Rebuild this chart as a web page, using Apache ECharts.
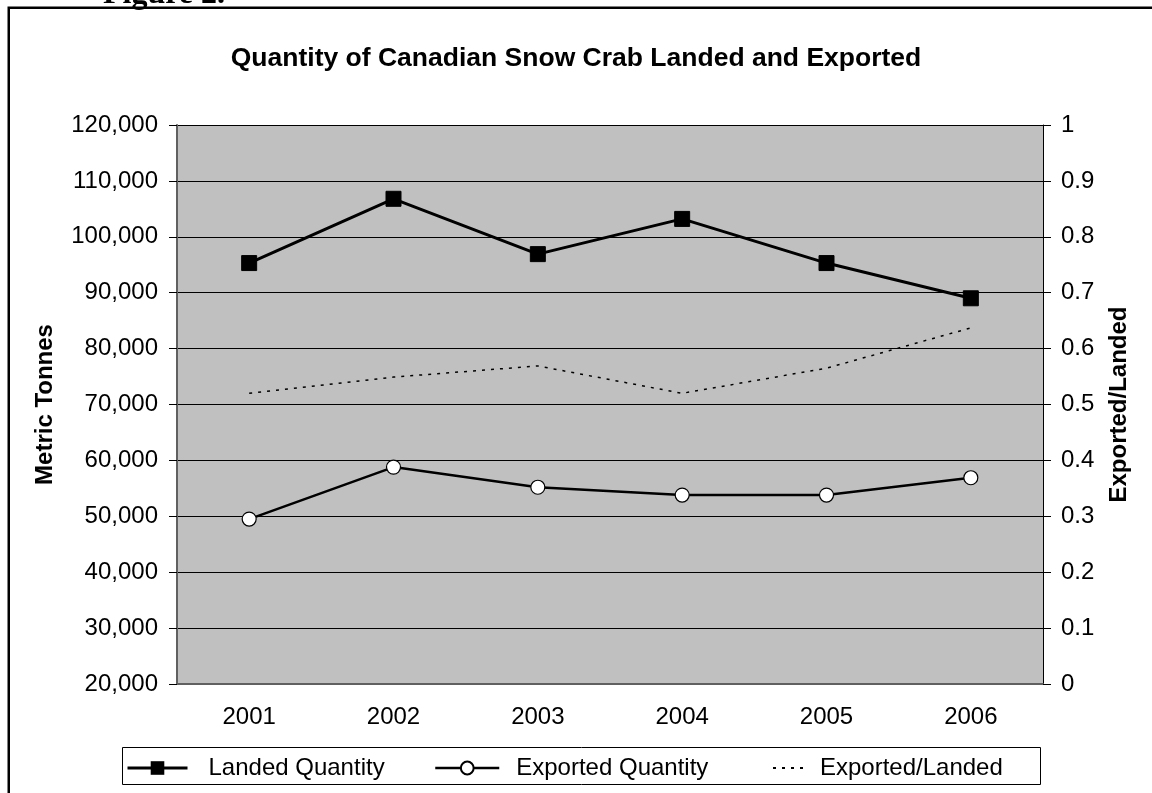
<!DOCTYPE html>
<html>
<head>
    <meta charset="utf-8">
    <title>Snow Crab</title>
    <script src="https://cdn.jsdelivr.net/npm/echarts@6/dist/echarts.min.js" type="text/javascript"></script>
    <style>
        html, body { margin: 0; padding: 0; background: #fff; }
    </style>
</head>
<body>
<div id="main" style="width: 1152px;height:793px;"></div>
<script type="text/javascript">
    // data
    var years = ['2001', '2002', '2003', '2004', '2005', '2006'];
    var landed = [95300, 106800, 96900, 103200, 95300, 89000];
    var exported = [49500, 58800, 55200, 53800, 53800, 56900];
    var ratio = [0.52, 0.549, 0.569, 0.52, 0.565, 0.637];

    var FONT = 'Arial, "Liberation Sans", sans-serif';

    var myChart = echarts.init(document.getElementById('main'));

    function legendText(pad) {
        return { fontFamily: FONT, fontSize: 24, color: '#000', padding: [0, 0, 0, pad] };
    }

    var option = {
        animation: false,
        backgroundColor: '#fff',
        title: {
            text: 'Quantity of Canadian Snow Crab Landed and Exported',
            left: 'center',
            top: 40,
            textStyle: { fontFamily: FONT, fontSize: 26.5, fontWeight: 'bold', color: '#000' }
        },
        graphic: [
            {
                type: 'rect',
                shape: { x: 8.75, y: 7.75, width: 1160, height: 800 },
                style: { fill: null, stroke: '#000', lineWidth: 2.5 },
                silent: true
            },
            {
                type: 'text',
                x: 103, y: 11,
                style: {
                    text: 'Figure 2.',
                    font: 'bold 32px "Liberation Serif", "Times New Roman", serif',
                    fill: '#000',
                    textVerticalAlign: 'bottom'
                },
                silent: true
            },
            {
                type: 'rect',
                shape: { x: 122.5, y: 747.5, width: 918, height: 37 },
                style: { fill: '#fff', stroke: '#000', lineWidth: 1 },
                silent: true,
                z: 0
            }
        ],
        legend: [
            {
                data: ['Landed Quantity'], left: 121, top: 751,
                itemWidth: 60, itemHeight: 17,
                lineStyle: { width: 3 },
                textStyle: legendText(16), z: 5
            },
            {
                data: ['Exported Quantity'], left: 429, top: 751,
                itemWidth: 64, itemHeight: 16,
                lineStyle: { width: 2.5 },
                textStyle: legendText(12), z: 5
            },
            {
                data: [{ name: 'Exported/Landed', itemStyle: { color: 'transparent', borderWidth: 0, opacity: 0 } }],
                left: 767, top: 751,
                itemWidth: 30, itemHeight: 14,
                textStyle: legendText(12), z: 5
            }
        ],
        grid: {
            left: 177, right: 109, top: 125, bottom: 109,
            show: true,
            backgroundColor: '#c0c0c0',
            borderWidth: 0
        },
        xAxis: [
            {
                type: 'category',
                data: years,
                position: 'bottom',
                boundaryGap: true,
                axisLine: { lineStyle: { color: '#606060', width: 2 } },
                axisTick: { length: 7, lineStyle: { color: '#000' } },
                axisLabel: { fontFamily: FONT, fontSize: 24, color: '#000', margin: 21 }
            },
            {
                type: 'category',
                data: years,
                position: 'bottom',
                offset: 0,
                boundaryGap: true,
                axisLine: { show: false },
                axisTick: { inside: true, length: 7, lineStyle: { color: '#000' } },
                axisLabel: { show: false }
            }
        ],
        yAxis: [
            {
                type: 'value',
                min: 20000, max: 120000, interval: 10000,
                position: 'left',
                name: 'Metric Tonnes',
                nameLocation: 'middle',
                nameGap: 120,
                nameTextStyle: { fontFamily: FONT, fontSize: 24, fontWeight: 'bold', color: '#000' },
                axisLine: { show: true, lineStyle: { color: '#606060', width: 2 } },
                axisTick: { show: true, length: 8, lineStyle: { color: '#000' } },
                axisLabel: {
                    fontFamily: FONT, fontSize: 24, color: '#000', margin: 19,
                    formatter: function (v) { return v.toLocaleString('en-US'); }
                },
                splitLine: { lineStyle: { color: '#000', width: 1 } }
            },
            {
                type: 'value',
                min: 0, max: 1, interval: 0.1,
                position: 'right',
                name: 'Exported/Landed',
                nameLocation: 'middle',
                nameGap: 64,
                nameRotate: 90,
                nameTextStyle: { fontFamily: FONT, fontSize: 24, fontWeight: 'bold', color: '#000' },
                axisLine: { show: true, lineStyle: { color: '#000', width: 1 } },
                axisTick: { show: true, length: 8, lineStyle: { color: '#000' } },
                axisLabel: {
                    fontFamily: FONT, fontSize: 24, color: '#000', margin: 18,
                    formatter: function (v) { return String(Math.round(v * 10) / 10); }
                },
                splitLine: { show: false }
            }
        ],
        series: [
            {
                name: 'Landed Quantity',
                type: 'line',
                data: landed,
                yAxisIndex: 0,
                symbol: 'rect',
                symbolSize: 15,
                lineStyle: { color: '#000', width: 3 },
                itemStyle: { color: '#000', borderColor: '#000' },
                z: 4
            },
            {
                name: 'Exported Quantity',
                type: 'line',
                data: exported,
                yAxisIndex: 0,
                symbol: 'circle',
                symbolSize: 14,
                lineStyle: { color: '#000', width: 2.5 },
                itemStyle: { color: '#fff', borderColor: '#000', borderWidth: 1.2 },
                z: 4
            },
            {
                name: 'Exported/Landed',
                type: 'line',
                data: ratio,
                yAxisIndex: 1,
                symbol: 'none',
                lineStyle: { color: '#000', width: 1.5, type: [3, 6] },
                itemStyle: { color: '#000' },
                z: 3
            }
        ]
    };

    myChart.setOption(option);
</script>
</body>
</html>
